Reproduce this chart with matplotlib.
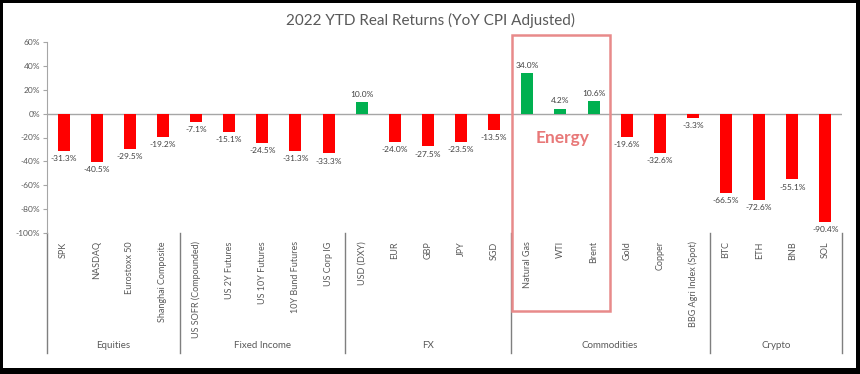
import numpy as np
import matplotlib.pyplot as plt
from matplotlib.patches import Rectangle

plt.rcParams['font.family'] = ['Lato', 'DejaVu Sans']

# Data
categories = ["SPK", "NASDAQ", "Eurostoxx 50", "Shanghai Composite",
              "US SOFR (Compounded)", "US 2Y Futures", "US 10Y Futures", "10Y Bund Futures", "US Corp IG",
              "USD (DXY)", "EUR", "GBP", "JPY", "SGD",
              "Natural Gas", "WTI", "Brent", "Gold", "Copper", "BBG Agri Index (Spot)",
              "BTC", "ETH", "BNB", "SOL"]
returns = [-31.3, -40.5, -29.5, -19.2,
           -7.1, -15.1, -24.5, -31.3, -33.3,
           10.0, -24.0, -27.5, -23.5, -13.5,
           34.0, 4.2, 10.6, -19.6, -32.6, -3.3,
           -66.5, -72.6, -55.1, -90.4]
groups = ["Equities", "Fixed Income", "FX", "Commodities", "Crypto"]
group_sizes = [4, 5, 5, 6, 4]
y_ticks = [60, 40, 20, 0, -20, -40, -60, -80, -100]

fig = plt.figure(figsize=(8.6, 3.74), dpi=100)
fig.patch.set_facecolor('black')
# white canvas inside the dark frame
fig.patches.append(Rectangle((3 / 860, 1 - 368 / 374), 853 / 860, 365 / 374,
                             transform=fig.transFigure, facecolor='white', edgecolor='none', zorder=-10))

ax = fig.add_axes([47 / 860, 1 - 233 / 374, 795 / 860, 191 / 374])
ax.set_facecolor('none')

x = np.arange(len(categories))
colors = ['#00b050' if v > 0 else '#ff0000' for v in returns]
ax.bar(x, returns, width=0.36, color=colors, zorder=3)

# data labels
for xi, v in zip(x, returns):
    off = 3 if v > 0 else -3
    ax.annotate(f"{v:.1f}%", (xi, v), xytext=(0, off), textcoords='offset points',
                ha='center', va='bottom' if v > 0 else 'top', fontsize=6, color='#404040')

ax.axhline(0, color='#a6a6a6', lw=1, zorder=2)
ax.set_xlim(-0.5, len(categories) - 0.5)
ax.set_ylim(-100, 60)
ax.set_yticks(y_ticks)
ax.set_yticklabels([f"{t}%" for t in y_ticks], fontsize=6, color='#595959')
ax.tick_params(axis='y', length=3, color='#a6a6a6', pad=2)

ax.set_xticks(x)
ax.set_xticklabels(categories, rotation=90, fontsize=6.5, color='#595959', va='top')
ax.tick_params(axis='x', length=0, pad=6)

for s in ['top', 'right', 'bottom']:
    ax.spines[s].set_visible(False)
ax.spines['left'].set_color('#a6a6a6')

# group separators and labels
tr = ax.get_xaxis_transform()
bounds = np.concatenate([[0], np.cumsum(group_sizes)]) - 0.5
for b in bounds:
    ax.plot([b, b], [0, -0.63], transform=tr, color='#7f7f7f', lw=1, clip_on=False)
for g, lo, hi in zip(groups, bounds[:-1], bounds[1:]):
    ax.text((lo + hi) / 2, -0.59, g, transform=tr, ha='center', va='center',
            fontsize=7, color='#595959')

# energy highlight box
ax.add_patch(Rectangle((13.55, -165), 2.95, 230.5, fill=False, edgecolor='#e88a8a',
                       lw=1.8, clip_on=False, zorder=4))
ax.text(15.05, -20, "Energy", ha='center', va='center', fontsize=12.5,
        fontweight='bold', color='#e87878')

fig.text(0.5, 1 - 20 / 374, "2022 YTD Real Returns (YoY CPI Adjusted)", ha='center', va='center',
         fontsize=11, color='#595959')

fig.savefig('out.png', dpi=100, facecolor=fig.get_facecolor())
